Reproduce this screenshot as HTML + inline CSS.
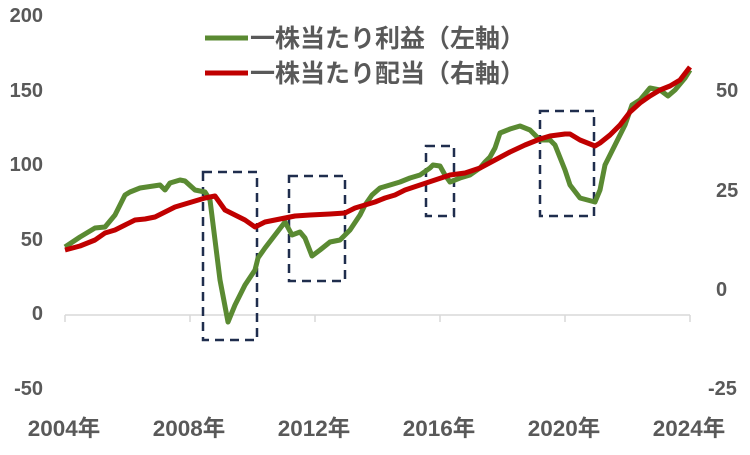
<!DOCTYPE html>
<html><head><meta charset="utf-8"><style>
body{margin:0;background:#fff}
text{font-family:"Liberation Sans","Noto Sans CJK JP",sans-serif;fill:#595959;font-weight:bold}
</style></head><body>
<svg width="750" height="450" xmlns="http://www.w3.org/2000/svg">
<line x1="65" y1="315" x2="690" y2="315" stroke="#d9d9d9" stroke-width="1.5"/>
<g stroke="#d9d9d9" stroke-width="1.5">
<line x1="65" y1="315" x2="65" y2="322"/><line x1="190" y1="315" x2="190" y2="322"/><line x1="315" y1="315" x2="315" y2="322"/><line x1="440" y1="315" x2="440" y2="322"/><line x1="565" y1="315" x2="565" y2="322"/><line x1="690" y1="315" x2="690" y2="322"/></g>
<g font-size="20" text-anchor="end">
<text x="43" y="22">200</text><text x="43" y="97">150</text><text x="43" y="171">100</text><text x="43" y="246">50</text><text x="43" y="320">0</text><text x="43" y="395">-50</text></g>
<g font-size="20">
<text x="716" y="97">50</text><text x="716" y="197">25</text><text x="716" y="296">0</text><text x="708" y="395">-25</text></g>
<g font-size="22.5" text-anchor="middle">
<text x="64" y="436">2004年</text><text x="189" y="436">2008年</text><text x="314" y="436">2012年</text><text x="439" y="436">2016年</text><text x="564" y="436">2020年</text><text x="689" y="436">2024年</text></g>
<g fill="none" stroke="#1f2d4d" stroke-width="2.5" stroke-dasharray="9,6">
<rect x="203" y="172" width="54" height="168"/><rect x="289" y="176" width="56" height="105"/><rect x="426" y="146" width="28" height="70"/><rect x="540" y="111" width="54" height="105"/></g>
<polyline fill="none" stroke="#5a8a32" stroke-width="5" stroke-linejoin="round" points="65,247 80,237 95,228 105,227 115,215 125,195 130,192 140,188 160,185 165,190 170,183 180,180 185,181 195,190 205,192 210,200 215,240 220,280 228,322 235,305 245,285 255,270 258,258 265,248 275,235 285,222 292,235 300,232 305,238 312,256 320,250 330,242 340,240 350,230 360,215 365,205 372,195 380,188 390,185 400,182 410,178 420,175 430,168 433,165 440,166 445,175 450,182 460,178 470,175 480,168 485,162 490,157 495,148 500,133 510,129 520,126 530,130 535,135 540,140 550,140 555,145 565,170 570,185 580,198 595,202 600,190 605,165 615,145 625,125 632,105 640,100 650,88 660,90 668,96 675,90 685,78 690,70"/>
<polyline fill="none" stroke="#c00000" stroke-width="5" stroke-linejoin="round" points="65,250 80,246 95,240 105,233 115,230 125,225 135,220 145,219 155,217 165,212 175,207 185,204 195,201 205,198 215,196 225,210 235,215 245,220 255,227 265,222 275,220 285,218 295,216 310,215 330,214 345,213 355,208 365,205 375,202 385,198 395,195 405,190 420,185 435,180 450,175 465,173 480,168 495,160 510,152 525,145 540,139 550,136 565,134 570,134 580,140 595,146 600,143 610,135 620,125 630,112 640,103 650,96 660,90 670,86 680,80 690,67"/>
<line x1="205" y1="38" x2="248" y2="38" stroke="#5a8a32" stroke-width="5"/>
<line x1="205" y1="73" x2="248" y2="73" stroke="#c00000" stroke-width="5"/>
<g font-size="25"><text x="250" y="47">一株当たり利益（左軸）</text><text x="250" y="82">一株当たり配当（右軸）</text></g>
</svg>
</body></html>
